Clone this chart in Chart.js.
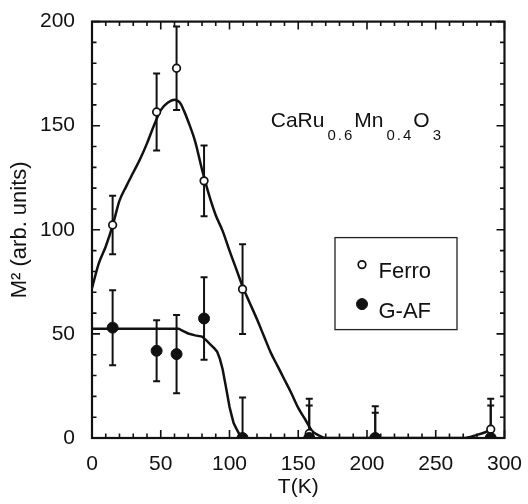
<!DOCTYPE html>
<html>
<head>
<meta charset="utf-8">
<script src="https://cdn.jsdelivr.net/npm/chart.js@4/dist/chart.umd.min.js"></script>
<style>
  html, body { margin: 0; padding: 0; background: #fff; }
  canvas { display: block; }
</style>
</head>
<body>
<canvas id="chart" width="528" height="504"></canvas>
<script>
// measured points (open = Ferro, filled = G-AF)
var ferroT   = [15, 47, 61.5, 81.5, 109.5, 158, 206, 290];
var ferroM2  = [102.3, 156.6, 177.6, 123.5, 71.5, 2.2, 0, 4.2];
var ferroErr = [14, 18.5, 20, 17, 21.5, 16.6, 15.3, 14.6];

var gafT   = [15, 47, 61.5, 81.5, 109.5, 158, 206, 290];
var gafM2  = [53, 41.9, 40.3, 57.4, 0, 0, 0, 0];
var gafErr = [18, 14.6, 18.8, 19.8, 19.5, 15.6, 12.1, 15.6];

// fitted curves
var ferroFitT  = [0, 5, 10, 15, 20, 25, 30, 35, 40, 45, 50, 55, 60, 64, 67, 70, 75, 80, 85, 90, 95, 100, 105, 110, 115, 120, 125, 130, 135, 140, 145, 150, 155, 160, 165, 170, 270, 280, 287, 290];
var ferroFitM2 = [72, 84, 92, 102, 114, 121, 127.5, 134, 141.5, 150, 157.5, 161, 162.5, 161, 157, 152, 142.5, 129, 117, 107, 99.5, 90, 81, 72, 64.5, 57, 49, 41, 34.5, 28, 21.5, 14.5, 9, 3.5, 1.2, 0, 0, 1.5, 3, 4];

var gafFitT  = [0, 63, 66, 70, 75, 80, 83, 86, 89, 91, 93, 95, 97, 98.5, 100, 101.5, 103, 105, 107, 109];
var gafFitM2 = [52.5, 52.5, 51.5, 50.2, 49.3, 48.7, 47, 45, 43, 41.5, 38, 33, 26, 20.5, 15, 11, 7.2, 4.5, 2, 0];

var xTicks = [0, 50, 100, 150, 200, 250, 300];
var yTicks = [0, 50, 100, 150, 200];

var FONT = '"Liberation Sans", Arial, sans-serif';

function pts(xs, ys) {
    return xs.map(function (v, i) { return {x: v, y: ys[i]}; });
}

var errorBars = {
    id: 'errorBars',
    beforeDatasetsDraw: function (chart) {
        var ctx = chart.ctx, a = chart.chartArea, x = chart.scales.x, y = chart.scales.y;
        ctx.save();
        ctx.beginPath();
        ctx.rect(a.left, a.top, a.right - a.left, a.bottom - a.top);
        ctx.clip();
        ctx.strokeStyle = '#111';
        ctx.lineWidth = 2;
        [[ferroT, ferroM2, ferroErr], [gafT, gafM2, gafErr]].forEach(function (s) {
            s[0].forEach(function (t, i) {
                var px = x.getPixelForValue(t);
                var top = y.getPixelForValue(s[1][i] + s[2][i]);
                var bot = y.getPixelForValue(s[1][i] - s[2][i]);
                ctx.beginPath();
                ctx.moveTo(px, top); ctx.lineTo(px, bot);
                ctx.moveTo(px - 3.5, top); ctx.lineTo(px + 3.5, top);
                ctx.moveTo(px - 3.5, bot); ctx.lineTo(px + 3.5, bot);
                ctx.stroke();
            });
        });
        ctx.restore();
    }
};

// box around the plot with inward ticks on all four sides
var frame = {
    id: 'frame',
    afterDatasetsDraw: function (chart) {
        var ctx = chart.ctx, a = chart.chartArea, x = chart.scales.x, y = chart.scales.y;
        ctx.save();
        ctx.strokeStyle = '#111';
        ctx.lineWidth = 1.6;
        ctx.beginPath();
        for (var t = 0; t <= 300; t += 10) {
            var px = x.getPixelForValue(t), len = t % 50 === 0 ? 8 : 4.5;
            ctx.moveTo(px, a.bottom); ctx.lineTo(px, a.bottom - len);
            ctx.moveTo(px, a.top); ctx.lineTo(px, a.top + len);
        }
        for (var m = 0; m <= 200; m += 10) {
            var py = y.getPixelForValue(m), l2 = m % 50 === 0 ? 8 : 4.5;
            ctx.moveTo(a.left, py); ctx.lineTo(a.left + l2, py);
            ctx.moveTo(a.right, py); ctx.lineTo(a.right - l2, py);
        }
        ctx.stroke();
        ctx.lineWidth = 2.2;
        ctx.strokeRect(a.left, a.top, a.right - a.left, a.bottom - a.top);
        ctx.restore();
    }
};

var labels = {
    id: 'labels',
    afterDraw: function (chart) {
        var ctx = chart.ctx, a = chart.chartArea, x = chart.scales.x, y = chart.scales.y;
        ctx.save();
        ctx.fillStyle = '#111';
        ctx.textBaseline = 'alphabetic';

        // compound formula
        var parts = [['CaRu', 0], ['0.6', 1], ['Mn', 0], ['0.4', 1], ['O', 0], ['3', 1]];
        var cx = x.getPixelForValue(130), cy = y.getPixelForValue(149.6);
        parts.forEach(function (p) {
            if (p[1]) {
                ctx.font = '15px ' + FONT;
                ctx.letterSpacing = '2px';
                cx += 3;
                ctx.fillText(p[0], cx, cy + 13);
                cx += ctx.measureText(p[0]).width;
            } else {
                ctx.font = '21px ' + FONT;
                ctx.letterSpacing = '0px';
                ctx.fillText(p[0], cx, cy);
                cx += ctx.measureText(p[0]).width;
            }
        });
        ctx.letterSpacing = '0px';

        // legend box
        var bx = a.left + 243, by = a.top + 216;
        ctx.lineWidth = 1.3;
        ctx.strokeStyle = '#222';
        ctx.strokeRect(bx, by, 122, 92);
        ctx.font = '22px ' + FONT;
        var ds = chart.data.datasets;
        [[ds[1], 27, 40.5], [ds[0], 66.5, 80]].forEach(function (e) {
            ctx.beginPath();
            ctx.arc(bx + 27, by + e[1], e[0].pointRadius, 0, Math.PI * 2);
            ctx.fillStyle = e[0].pointBackgroundColor;
            ctx.fill();
            ctx.lineWidth = e[0].pointBorderWidth;
            ctx.strokeStyle = '#111';
            ctx.stroke();
            ctx.fillStyle = '#111';
            ctx.fillText(e[0].label, bx + 43.5, by + e[2]);
        });
        ctx.restore();
    }
};

var ctx = document.getElementById('chart').getContext('2d');
var myChart = new Chart(ctx, {
    type: 'scatter',
    data: {
        datasets: [{
            label: 'G-AF',
            data: pts(gafT, gafM2),
            pointRadius: 5.5,
            pointBackgroundColor: '#111',
            pointBorderColor: '#111',
            pointBorderWidth: 1
        }, {
            label: 'Ferro',
            data: pts(ferroT, ferroM2),
            pointRadius: 3.8,
            pointBackgroundColor: '#fff',
            pointBorderColor: '#111',
            pointBorderWidth: 1.7
        }, {
            label: 'Ferro fit',
            data: pts(ferroFitT, ferroFitM2),
            showLine: true,
            pointRadius: 0,
            borderColor: '#111',
            borderWidth: 2.5,
            cubicInterpolationMode: 'monotone'
        }, {
            label: 'G-AF fit',
            data: pts(gafFitT, gafFitM2),
            showLine: true,
            pointRadius: 0,
            borderColor: '#111',
            borderWidth: 2.5,
            tension: 0
        }]
    },
    options: {
        responsive: false,
        animation: false,
        layout: { padding: { top: 15, right: 20, left: 0, bottom: 0 } },
        plugins: { legend: { display: false }, tooltip: { enabled: false } },
        scales: {
            x: {
                type: 'linear', min: 0, max: 300,
                afterBuildTicks: function (s) { s.ticks = xTicks.map(function (v) { return {value: v}; }); },
                afterFit: function (s) { s.height = 66; },
                grid: { display: false },
                border: { display: false },
                ticks: { color: '#111', padding: 6, maxRotation: 0, font: { family: FONT, size: 21 } },
                title: { display: true, text: 'T(K)', color: '#111', padding: { top: 0, bottom: 4 }, font: { family: FONT, size: 21 } }
            },
            y: {
                type: 'linear', min: 0, max: 200,
                afterBuildTicks: function (s) { s.ticks = yTicks.map(function (v) { return {value: v}; }); },
                afterFit: function (s) { s.width = 92; },
                grid: { display: false },
                border: { display: false },
                ticks: { color: '#111', padding: 9, font: { family: FONT, size: 21 } },
                title: { display: true, text: 'M² (arb. units)', color: '#111', padding: { top: 7, bottom: 0 }, font: { family: FONT, size: 22 } }
            }
        }
    },
    plugins: [errorBars, frame, labels]
});
</script>
</body>
</html>
